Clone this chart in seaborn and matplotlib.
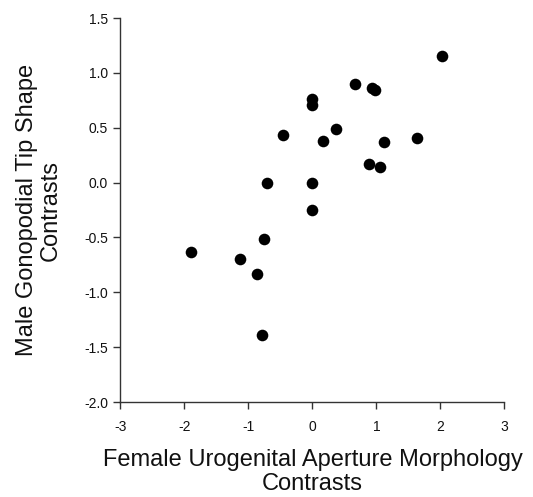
import matplotlib
matplotlib.use("Agg")
import matplotlib.pyplot as plt
import seaborn as sns
import pandas as pd
import numpy as np

female_contrasts = [2.02, 0.67, 0.93, 0.975, 0.0, 0.0, -0.46, 0.364, 0.166, 1.12, 1.63,
                    0.886, 1.05, -0.71, 0.0, 0.0, -0.757, -1.90, -1.14, -0.86, -0.79]
male_contrasts = [1.155, 0.90, 0.866, 0.84, 0.76, 0.71, 0.433, 0.49, 0.375, 0.37, 0.41,
                  0.174, 0.143, 0.0, 0.0, -0.25, -0.51, -0.635, -0.70, -0.83, -1.39]
x_ticks = [-3, -2, -1, 0, 1, 2, 3]
y_ticks = [-2.0, -1.5, -1.0, -0.5, 0.0, 0.5, 1.0, 1.5]

df = pd.DataFrame({"x": female_contrasts, "y": male_contrasts})

sns.set_style("ticks")
plt.rcParams['font.family'] = ['Liberation Sans', 'DejaVu Sans']

fig = plt.figure(figsize=(5.33, 4.97), dpi=100)
ax = fig.add_axes([0.226, 0.191, 0.7205, 0.7727])
sns.scatterplot(data=df, x="x", y="y", ax=ax, color="black", s=70,
                edgecolor="black", linewidth=0, zorder=3)

ax.set_xlim(-3, 3)
ax.set_ylim(-2.0, 1.5)
ax.set_xticks(x_ticks)
ax.set_xticklabels([f"{t:d}" for t in x_ticks])
ax.set_yticks(y_ticks)
ax.set_yticklabels([f"{t:.1f}" for t in y_ticks])
sns.despine(ax=ax)
for sp in ["left", "bottom"]:
    ax.spines[sp].set_linewidth(1.0)
    ax.spines[sp].set_color("#333333")
ax.tick_params(axis="both", direction="out", length=5, width=1.0, labelsize=10,
               colors="#333333", labelcolor="#111111")
ax.tick_params(axis="x", pad=8)
ax.tick_params(axis="y", pad=4)

ax.set_xlabel("Female Urogenital Aperture Morphology\nContrasts", fontsize=17,
              labelpad=11, linespacing=1.12, color="#111111")
ax.set_ylabel("Male Gonopodial Tip Shape\nContrasts", fontsize=17,
              labelpad=16, linespacing=1.08, color="#111111")

fig.savefig("out.png", dpi=100)
